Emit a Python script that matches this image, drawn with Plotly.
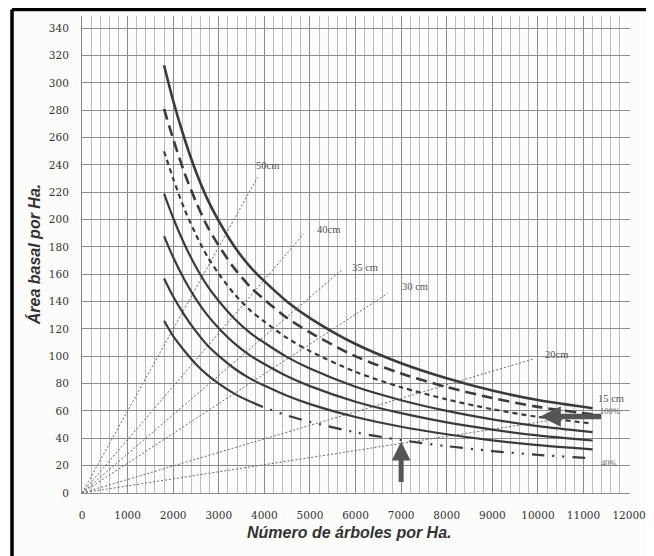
import plotly.graph_objects as go

# ---------------- data ----------------
N_trees = [1800, 2000, 2250, 2500, 2750, 3000, 3350, 3700, 4000, 4500,
           5000, 6000, 7000, 8000, 9000, 10000, 11200]

g100 = [313, 287, 259, 235, 215, 199, 180, 165, 155, 140, 128, 109, 95, 84, 75, 68, 62]
g90 = [281, 259, 234, 213, 195, 181, 164, 150.5, 141.5, 128, 117.5, 100, 87.5, 77.5, 69.5, 63, 57.5]
g80 = [250, 230, 207.5, 189, 173, 160.4, 145.3, 133.3, 125.4, 113.4, 103.8, 88.6, 77.4, 68.5, 61.3, 55.7, 50.8]
g70 = [219, 201.2, 181.8, 165.4, 151.6, 140.5, 127.3, 116.8, 109.9, 99.4, 91, 77.7, 67.9, 60.1, 53.9, 48.9, 44.6]
g60 = [188, 172.5, 155.9, 141.9, 130.1, 120.6, 109.3, 100.3, 94.4, 85.4, 78.2, 66.8, 58.4, 51.7, 46.4, 42.1, 38.4]
g50 = [157, 143.8, 130, 118.2, 108.1, 100.3, 90.9, 83.5, 78.6, 71.1, 65, 55.6, 48.5, 43, 38.5, 35, 31.9]
g40 = [126, 114.8, 103.9, 94.2, 86.4, 80, 72.5, 66.7, 62.6, 56.7, 52, 44.4, 38.7, 34.3, 30.7, 27.9, 25.4]

diam_labels = ["50cm", "40cm", "35 cm", "30 cm", "20cm", "15 cm"]
diam_end_N = [3850, 4860, 5690, 6700, 9900, 11200]
diam_end_G = [231, 189.5, 163, 146, 98, 58]

pct_labels = ["100%", "40%"]

x_ticks = [0, 1000, 2000, 3000, 4000, 5000, 6000, 7000, 8000, 9000, 10000, 11000, 12000]
y_ticks = list(range(0, 341, 20))

# arrows (data positions)
v_arrow_N, v_arrow_from, v_arrow_to = 7000, 7, 37.5
h_arrow_G, h_arrow_from, h_arrow_to = 56, 11420, 10050

# ---------------- layout constants ----------------
diam_label_pos = [(4065, 239.5), (5405, 193), (6205, 165.3), (7308, 151.4),
                  (10400, 101.7), (11600, 68.8)]
pct_label_pos = [(11590, 60.2), (11560, 22.2)]

CURVE = "#3b3b3b"
BG = "#fcfcfb"
fig = go.Figure()

# diameter lines from the origin
for lab, en, eg in zip(diam_labels, diam_end_N, diam_end_G):
    fig.add_trace(go.Scatter(x=[0, en], y=[0, eg], mode="lines",
                             line=dict(color="#6a6a6a", width=1, dash="2px,2px"),
                             hoverinfo="skip", showlegend=False))

styles = [
    (g100, "solid", 2.6),
    (g90, "11px,6px", 2.6),
    (g80, "5px,4px", 2.2),
    (g70, "solid", 2.2),
    (g60, "solid", 2.2),
    (g50, "solid", 2.2),
]
for ys, dash, w in styles:
    fig.add_trace(go.Scatter(x=N_trees, y=ys, mode="lines",
                             line=dict(color=CURVE, width=w, dash=dash, shape="spline",
                                       smoothing=0.8),
                             showlegend=False))

split = N_trees.index(3700)
fig.add_trace(go.Scatter(x=N_trees[:split + 1], y=g40[:split + 1], mode="lines",
                         line=dict(color=CURVE, width=2.2, shape="spline", smoothing=0.8),
                         showlegend=False))
fig.add_trace(go.Scatter(x=N_trees[split:], y=g40[split:], mode="lines",
                         line=dict(color=CURVE, width=2.2, shape="spline", smoothing=0.8,
                                   dash="13px,8px,2px,8px,2px,8px"),
                         showlegend=False))

lab_font = dict(family="Liberation Serif", size=10.5, color="#555")
for lab, (lx, ly) in zip(diam_labels, diam_label_pos):
    fig.add_annotation(x=lx, y=ly, text=lab, showarrow=False, font=lab_font)
for lab, (lx, ly) in zip(pct_labels, pct_label_pos):
    fig.add_annotation(x=lx, y=ly, text=lab, showarrow=False,
                       font=dict(family="Liberation Serif", size=8.5, color="#666"))

# arrows
fig.add_annotation(x=v_arrow_N, y=v_arrow_to, ax=v_arrow_N, ay=v_arrow_from,
                   xref="x", yref="y", axref="x", ayref="y", text="",
                   showarrow=True, arrowhead=2, arrowsize=0.75, arrowwidth=5,
                   arrowcolor="#555", standoff=0)
fig.add_annotation(x=h_arrow_to, y=h_arrow_G, ax=h_arrow_from, ay=h_arrow_G,
                   xref="x", yref="y", axref="x", ayref="y", text="",
                   showarrow=True, arrowhead=2, arrowsize=0.75, arrowwidth=5.5,
                   arrowcolor="#555", standoff=0)

# axis titles
title_font = dict(family="Liberation Sans", size=16, color="#333")
fig.add_annotation(xref="paper", yref="paper", x=0.489, y=-0.082,
                   text="<b><i>Número de árboles por Ha.</i></b>", showarrow=False,
                   font=title_font, xanchor="center", yanchor="middle")
fig.add_annotation(xref="paper", yref="paper", x=-0.088, y=0.5,
                   text="<b><i>Área basal por Ha.</i></b>", showarrow=False,
                   textangle=-90, font=title_font, xanchor="center", yanchor="middle")

# black frame (top and left) of the scanned figure
fig.add_shape(type="line", xref="paper", yref="paper", x0=-0.1277, x1=1.05,
              y0=1.0135, y1=1.0135, line=dict(color="black", width=3.5))
fig.add_shape(type="line", xref="paper", yref="paper", x0=-0.1277, x1=-0.1277,
              y0=1.0135, y1=-0.15, line=dict(color="black", width=3.5))

tick_font = dict(family="DejaVu Serif", size=10.5, color="#333")
fig.update_layout(
    width=646, height=548,
    margin=dict(l=74, r=16, t=8, b=63),
    paper_bgcolor=BG, plot_bgcolor=BG,
    xaxis=dict(range=[0, 12020], tickvals=x_ticks, ticktext=[str(v) for v in x_ticks],
               showgrid=True, gridcolor="#8c8c8c", gridwidth=1,
               minor=dict(dtick=200, tick0=0, showgrid=True, gridcolor="#bcbcbc", gridwidth=1),
               zeroline=False, showline=True, linecolor="#8c8c8c", linewidth=1,
               ticks="", tickfont=tick_font, ticklabelstandoff=12),
    yaxis=dict(range=[0, 349], tickvals=y_ticks, ticktext=[str(v) for v in y_ticks],
               showgrid=True, gridcolor="#8c8c8c", gridwidth=1.2,
               zeroline=False, showline=True, linecolor="#8c8c8c", linewidth=1,
               ticks="", tickfont=tick_font, ticklabelstandoff=10),
)

fig.write_html("out.html")
